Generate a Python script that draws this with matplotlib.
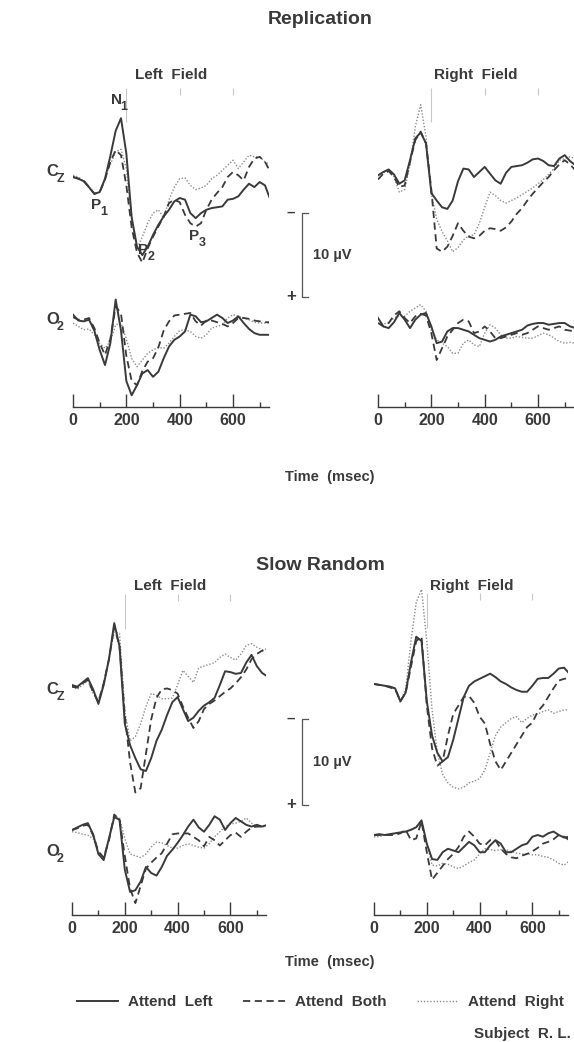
import numpy as np
import matplotlib
matplotlib.use("Agg")
import matplotlib.pyplot as plt
from matplotlib.lines import Line2D

plt.rcParams['font.family'] = ['Liberation Sans', 'DejaVu Sans']
plt.rcParams['font.weight'] = 'bold'

INK = '#3a3a3a'
DOT = '#8c8c8c'

# temps (msec), un point toutes les 20 ms
t_ms = np.arange(0, 741, 20)

# --- Replication (uV, negatif vers le haut) ---
rep_lf_cz_left = [0.0, 0.2, 0.5, 1.2, 2.0, 1.8, 0.2, -2.5, -5.5, -7.0,
                  -2.8, 4.8, 8.3, 9.3, 8.3, 6.9, 5.7, 4.7, 3.9, 2.9,
                  2.5, 2.7, 4.3, 4.9, 4.3, 3.9, 3.7, 3.6, 3.5, 2.7,
                  2.6, 2.3, 1.5, 0.8, 1.2, 0.6, 1.0, 2.7]
rep_lf_cz_both = [0.0, 0.2, 0.4, 1.2, 2.0, 1.8, 0.3, -1.8, -3.2, -2.6,
                  1.0, 6.0, 9.0, 10.2, 8.5, 7.1, 5.9, 4.7, 3.1, 2.7,
                  3.0, 4.5, 5.5, 5.9, 5.5, 3.9, 2.7, 1.9, 1.2, 0.0,
                  -0.6, -0.2, 0.4, -1.2, -2.2, -2.4, -1.8, -0.6]
rep_lf_cz_right = [-0.2, 0.0, 0.5, 1.3, 2.0, 1.8, 0.2, -1.5, -3.0, -3.3,
                   -1.0, 5.0, 8.5, 7.1, 5.5, 4.3, 3.9, 4.9, 2.7, 1.2,
                   0.2, 0.1, 1.0, 1.5, 1.3, 1.0, 0.2, -0.2, -0.8, -1.4,
                   -2.0, -1.0, -1.8, -2.6, -2.4, -2.4, -1.8, -1.4]
rep_lf_o2_left = [-0.4, 0.3, 0.4, 0.2, 1.5, 3.8, 5.6, 3.0, -2.2, 1.5,
                  7.5, 9.2, 8.0, 6.6, 6.2, 7.0, 6.4, 4.8, 3.4, 2.6,
                  2.2, 1.6, -0.4, -0.2, 0.5, 0.4, 0.0, -0.4, 0.0, 0.6,
                  0.3, -0.2, 0.6, 1.3, 1.8, 2.0, 2.0, 2.0]
rep_lf_o2_both = [-0.1, 0.2, 0.2, 0.0, 1.2, 3.0, 4.4, 2.5, -1.4, -0.5,
                  4.5, 7.5, 8.0, 6.3, 5.2, 4.8, 3.5, 1.5, 0.4, -0.3,
                  -0.4, -0.5, -0.6, 0.4, 0.9, 0.3, 0.3, 0.5, 0.7, 1.0,
                  0.6, 0.0, 0.0, 0.1, 0.3, 0.4, 0.5, 0.5]
rep_lf_o2_right = [0.6, 1.0, 1.4, 1.3, 2.0, 3.0, 3.6, 2.8, 0.8, 0.6,
                   2.5, 4.8, 5.8, 5.0, 4.2, 3.8, 3.5, 3.6, 3.0, 2.2,
                   1.5, 1.4, 1.6, 2.2, 2.4, 2.0, 1.2, 1.0, 0.8, 0.0,
                   -0.4, -0.2, 0.0, 0.2, 0.5, 0.6, 0.6, 0.6]

rep_rf_cz_left = [-0.2, -0.6, -0.9, -0.3, 0.8, 0.4, -2.0, -4.6, -5.3, -4.0,
                  1.9, 2.8, 3.6, 3.8, 2.8, 0.5, -1.0, -0.9, 0.0, -0.6,
                  -1.2, -0.4, 0.4, 0.8, -0.5, -1.2, -1.3, -1.4, -1.7, -2.1,
                  -2.2, -1.9, -1.4, -1.3, -2.2, -2.6, -1.9, -1.4]
rep_rf_cz_both = [0.3, -0.4, -0.7, 0.0, 1.2, 1.0, -1.8, -4.4, -5.4, -4.0,
                  1.5, 8.5, 8.9, 8.3, 7.0, 5.5, 6.4, 7.1, 7.3, 7.0,
                  6.4, 6.1, 6.2, 6.4, 6.0, 5.3, 4.4, 3.7, 2.8, 2.0,
                  1.3, 0.6, 0.0, -0.8, -1.5, -2.0, -1.5, -0.8]
rep_rf_cz_right = [-0.2, -0.5, -0.8, 0.0, 1.8, 1.5, -1.5, -6.0, -8.6, -4.8,
                   2.0, 5.0, 6.5, 7.6, 8.9, 8.4, 7.5, 7.0, 6.9, 5.5,
                   3.6, 1.8, 2.2, 2.8, 3.1, 2.8, 2.5, 2.1, 1.7, 1.3,
                   0.8, 0.3, -0.3, -1.0, -2.0, -2.2, -2.4, -2.2]
rep_rf_o2_left = [0.0, 1.0, 1.2, 0.5, -0.6, 0.2, 1.2, 0.2, -0.4, -0.6,
                  1.0, 3.0, 2.8, 1.6, 1.2, 1.2, 1.4, 1.6, 2.0, 2.4,
                  2.6, 2.8, 2.6, 2.2, 2.0, 1.8, 1.6, 1.4, 0.9, 0.7,
                  0.6, 0.6, 0.8, 0.7, 0.6, 0.6, 1.0, 1.2]
rep_rf_o2_both = [0.6, 1.0, 0.6, -0.3, -0.8, 0.0, 0.6, -0.2, -0.5, -0.3,
                  1.8, 5.0, 3.6, 2.2, 1.4, 0.6, 0.2, 0.4, 1.8, 1.6,
                  1.0, 1.6, 2.4, 2.4, 2.2, 2.0, 1.8, 2.0, 1.8, 1.4,
                  1.0, 1.2, 1.4, 1.2, 1.0, 1.4, 1.5, 1.6]
rep_rf_o2_right = [0.6, 0.7, 0.6, 0.0, -0.3, -0.2, -0.8, -1.2, -1.6, -0.8,
                   1.5, 2.6, 3.0, 3.4, 4.2, 4.2, 3.0, 2.6, 3.2, 3.4,
                   1.8, 0.8, 1.2, 2.0, 2.4, 2.4, 2.2, 2.3, 2.4, 2.4,
                   2.1, 1.8, 2.0, 2.4, 2.8, 3.0, 2.9, 3.0]

# --- Slow Random ---
slow_lf_cz_left = [0.0, 0.2, -0.3, -0.8, 0.5, 2.2, 0.0, -3.0, -7.2, -4.5,
                   4.5, 7.0, 8.5, 9.8, 10.0, 8.5, 6.5, 5.2, 3.5, 2.0,
                   1.4, 2.8, 4.2, 3.8, 3.0, 2.4, 2.0, 1.5, 0.0, -1.6,
                   -1.5, -1.3, -1.4, -2.6, -3.5, -2.2, -1.4, -1.0]
slow_lf_cz_both = [0.2, 0.3, -0.2, -0.6, 0.8, 2.0, -0.2, -3.0, -6.8, -4.5,
                   3.5, 9.0, 12.5, 12.0, 8.0, 4.0, 1.5, 0.5, 0.4, 0.6,
                   1.0, 2.5, 3.8, 5.0, 4.2, 2.8, 2.2, 1.8, 1.3, 0.8,
                   0.4, -0.2, -0.9, -1.8, -3.0, -3.6, -4.0, -3.8]
slow_lf_cz_right = [0.2, 0.5, 0.0, -0.5, 1.0, 1.8, -0.3, -3.0, -6.2, -6.0,
                    3.0, 6.5, 6.0, 4.5, 2.5, 1.0, 1.2, 1.6, 1.6, 1.5,
                    0.0, -1.7, -1.0, -0.3, -2.0, -2.2, -2.4, -2.6, -3.2, -3.6,
                    -3.2, -2.9, -3.6, -4.6, -4.8, -4.4, -4.1, -4.2]
slow_lf_o2_left = [0.0, -0.3, -0.6, -0.8, 0.5, 2.8, 3.5, 1.0, -1.5, -1.2,
                   4.6, 7.2, 7.0, 6.0, 4.3, 5.0, 5.3, 4.3, 3.0, 2.3,
                   1.5, 0.6, -0.4, -1.2, -0.3, 0.2, -0.6, -1.6, -1.2, 0.0,
                   -0.8, -1.4, -1.0, -0.6, -0.4, -0.6, -0.4, -0.6]
slow_lf_o2_both = [0.0, -0.2, -0.5, -0.6, 0.6, 2.5, 3.2, 1.2, -1.8, -1.2,
                   3.0, 6.8, 8.5, 6.5, 4.5, 3.8, 3.2, 2.7, 1.6, 0.5,
                   0.4, 0.4, 0.4, 0.8, 1.2, 1.9, 0.8, 1.2, 1.8, 1.2,
                   0.6, 0.3, 0.8, 0.2, -0.3, -0.4, -0.4, -0.4]
slow_lf_o2_right = [0.2, 0.3, 0.5, 0.6, 1.0, 2.6, 3.2, 1.0, -1.6, -1.4,
                    1.0, 2.8, 3.0, 3.2, 2.8, 2.0, 1.4, 1.5, 1.8, 2.1,
                    2.1, 1.8, 1.6, 1.8, 2.0, 2.1, 1.6, 0.8, 0.2, -0.4,
                    -0.7, -0.8, -1.0, -1.4, -0.8, -0.4, -0.4, -0.4]

slow_rf_cz_left = [0.0, 0.1, 0.2, 0.3, 0.5, 2.0, 1.0, -2.5, -5.5, -5.0,
                   2.0, 6.0, 8.0, 9.0, 8.5, 6.5, 4.0, 1.5, 0.2, -0.3,
                   -0.6, -0.9, -1.2, -0.8, -0.3, 0.0, 0.4, 0.7, 0.9, 0.9,
                   0.2, -0.6, -0.7, -0.7, -1.2, -1.8, -1.9, -1.2]
slow_rf_cz_both = [0.0, 0.1, 0.2, 0.4, 0.6, 2.0, 1.0, -2.0, -5.0, -5.5,
                   2.5, 7.5, 9.5, 9.0, 6.0, 3.5, 2.5, 1.5, 1.4, 2.2,
                   3.8, 4.6, 7.0, 9.0, 10.0, 9.0, 8.0, 7.0, 6.0, 5.0,
                   4.5, 3.2, 2.5, 1.5, 0.5, -0.4, -0.6, -0.7]
slow_rf_cz_right = [0.0, 0.1, 0.2, 0.3, 0.6, 2.2, 0.5, -5.0, -9.5, -11.0,
                    -5.0, 3.0, 8.0, 10.5, 11.5, 12.0, 12.2, 12.0, 11.5, 11.3,
                    11.0, 10.0, 8.0, 6.0, 5.0, 4.5, 4.0, 3.8, 4.5, 4.0,
                    3.6, 3.5, 3.2, 3.0, 3.4, 3.2, 3.0, 3.0]
slow_rf_o2_left = [0.0, -0.1, 0.0, -0.1, -0.2, -0.3, -0.4, -0.6, -0.9, -1.7,
                   1.0, 2.8, 2.9, 2.0, 1.6, 1.8, 2.0, 1.4, 0.8, 1.2,
                   2.0, 2.0, 1.2, 0.6, 1.0, 2.0, 2.0, 1.6, 1.2, 1.0,
                   0.2, 0.0, 0.2, -0.2, -0.4, 0.0, 0.3, 0.2]
slow_rf_o2_both = [0.0, 0.0, 0.0, 0.0, 0.0, -0.2, -0.6, 0.6, 0.4, -1.6,
                   2.0, 5.2, 4.4, 3.6, 2.8, 2.2, 1.4, 0.2, -0.4, 0.2,
                   1.0, 1.2, 0.6, 0.6, 1.6, 2.2, 2.6, 2.7, 2.4, 2.2,
                   1.9, 1.5, 1.0, 0.8, 0.5, 0.0, 0.2, 0.6]
slow_rf_o2_right = [0.2, 0.2, 0.0, 0.0, -0.2, -0.3, -0.4, -0.6, -1.0, -1.5,
                    1.0, 3.5, 3.6, 3.3, 3.4, 3.7, 3.9, 3.6, 3.2, 2.9,
                    2.2, 1.6, 1.7, 1.8, 1.7, 1.7, 1.9, 2.1, 2.2, 2.2,
                    2.3, 2.3, 2.5, 2.6, 2.9, 3.3, 3.5, 3.0]

x_ticks = [0, 200, 400, 600]
x_minor = [100, 300, 500, 700]
stim_marks = [200, 400, 600]
scale_uv = 10
conditions = ['Attend  Left', 'Attend  Both', 'Attend  Right']

replication = {
    'Left  Field': {'cz': (rep_lf_cz_left, rep_lf_cz_both, rep_lf_cz_right),
                    'o2': (rep_lf_o2_left, rep_lf_o2_both, rep_lf_o2_right)},
    'Right  Field': {'cz': (rep_rf_cz_left, rep_rf_cz_both, rep_rf_cz_right),
                     'o2': (rep_rf_o2_left, rep_rf_o2_both, rep_rf_o2_right)},
}
slow_random = {
    'Left  Field': {'cz': (slow_lf_cz_left, slow_lf_cz_both, slow_lf_cz_right),
                    'o2': (slow_lf_o2_left, slow_lf_o2_both, slow_lf_o2_right)},
    'Right  Field': {'cz': (slow_rf_cz_left, slow_rf_cz_both, slow_rf_cz_right),
                     'o2': (slow_rf_o2_left, slow_rf_o2_both, slow_rf_o2_right)},
}

W, H = 574, 1042
XMAX = 735
fig = plt.figure(figsize=(W / 100, H / 100), dpi=100)


def px_axes(x0, x1, ytop, ybot):
    ax = fig.add_axes([x0 / W, 1 - ybot / H, (x1 - x0) / W, (ybot - ytop) / H])
    ax.set_facecolor('none')
    return ax


def ftext(x, y, s, **kw):
    kw.setdefault('color', INK)
    kw.setdefault('ha', 'center')
    kw.setdefault('va', 'center')
    fig.text(x / W, 1 - y / H, s, **kw)


def draw_traces(ax, traces):
    left, both, right = traces
    ax.plot(t_ms, right, color=DOT, lw=1.0, ls=(0, (1, 1.3)))
    ax.plot(t_ms, both, color=INK, lw=1.3, ls=(0, (4, 2.5)))
    ax.plot(t_ms, left, color=INK, lw=1.4, ls='-')


sections = [
    dict(name='Replication', data=replication, title_y=20, field_y=75,
         s=8.4, ms=0.2667, x0=(73, 378), cz_y=(177, 177), o2_y=(318, 318),
         axis_y=407, time_y=477, bar_top=213, cz_lab=172, o2_lab=320),
    dict(name='Slow Random', data=slow_random, title_y=565, field_y=586,
         s=8.6, ms=0.264, x0=(72, 374), cz_y=(685, 684), o2_y=(830, 835),
         axis_y=915, time_y=962, bar_top=719, cz_lab=690, o2_lab=852),
]

for sec in sections:
    s = sec['s']
    ftext(320, sec['title_y'], sec['name'], fontsize=14)
    ftext(330, sec['time_y'], 'Time  (msec)', fontsize=10.5)
    # electrode labels
    ftext(46, sec['cz_lab'], 'C', fontsize=12, ha='left')
    ftext(57, sec['cz_lab'] + 7, 'Z', fontsize=9, ha='left')
    ftext(46, sec['o2_lab'], 'O', fontsize=12, ha='left')
    ftext(57, sec['o2_lab'] + 7, '2', fontsize=9, ha='left')

    for col, field in enumerate(['Left  Field', 'Right  Field']):
        x0 = sec['x0'][col]
        x1 = x0 + XMAX * sec['ms']
        ftext(x0 + 98, sec['field_y'], field, fontsize=11)

        cz_base = sec['cz_y'][col]
        ax_cz = px_axes(x0, x1, cz_base - 12 * s, cz_base + 14 * s)
        ax_cz.set_xlim(0, XMAX)
        ax_cz.set_ylim(14, -12)
        ax_cz.axis('off')
        ax_cz.vlines(stim_marks, -10.6, [-6.5, -9.8, -9.8], color='#c8c8c8', lw=0.8)
        draw_traces(ax_cz, sec['data'][field]['cz'])

        o2_base = sec['o2_y'][col]
        ax_o2 = px_axes(x0, x1, o2_base - 6 * s, sec['axis_y'])
        ax_o2.set_xlim(0, XMAX)
        ax_o2.set_ylim((sec['axis_y'] - o2_base) / s, -6)
        draw_traces(ax_o2, sec['data'][field]['o2'])
        for side in ['top', 'left', 'right']:
            ax_o2.spines[side].set_visible(False)
        ax_o2.spines['bottom'].set_color(INK)
        ax_o2.spines['bottom'].set_linewidth(1.0)
        ax_o2.set_yticks([])
        ax_o2.set_xticks(x_ticks)
        ax_o2.set_xticks(x_minor, minor=True)
        ax_o2.set_xticklabels([str(v) for v in x_ticks])
        ax_o2.tick_params(axis='x', which='major', direction='in', length=9.5,
                          width=1.0, color=INK, pad=4, labelsize=11.5, labelcolor=INK)
        ax_o2.tick_params(axis='x', which='minor', direction='in', length=3.5,
                          width=1.0, color=INK)

        if col == 0:
            # barre d'echelle 10 uV (negatif en haut)
            bar_x = (302 - x0) / sec['ms']
            serif = 6 / sec['ms']
            v0 = (sec['bar_top'] - cz_base) / s
            v1 = v0 + scale_uv
            ax_cz.plot([bar_x + serif, bar_x, bar_x, bar_x + serif], [v0, v0, v1, v1],
                       color='#555555', lw=0.9, clip_on=False)
            ax_cz.text(bar_x - 11 / sec['ms'], v0, '\u2013', color=INK, fontsize=11,
                       ha='center', va='center', clip_on=False)
            ax_cz.text(bar_x - 11 / sec['ms'], v1, '+', color=INK, fontsize=12,
                       ha='center', va='center', clip_on=False)
            ax_cz.text(bar_x + 11 / sec['ms'], (v0 + v1) / 2, '%d \u00b5V' % scale_uv,
                       color=INK, fontsize=10.5, ha='left', va='center', clip_on=False)

# etiquettes des composantes (Replication, Cz gauche)
for name, sub, x, y in [('N', '1', 116, 100), ('P', '1', 96, 205),
                        ('P', '2', 143, 250), ('P', '3', 194, 236)]:
    ftext(x, y, name, fontsize=11)
    ftext(x + 8, y + 7, sub, fontsize=9)

handles = [Line2D([], [], color=INK, lw=1.4),
           Line2D([], [], color=INK, lw=1.3, ls=(0, (4, 2.5))),
           Line2D([], [], color=DOT, lw=1.0, ls=(0, (1, 1.3)))]
fig.legend(handles, conditions, loc='center left', bbox_to_anchor=(77 / W, 1 - 1002 / H),
           ncol=3, frameon=False, fontsize=11, handlelength=2.7, handletextpad=0.65,
           columnspacing=2.0, borderpad=0, borderaxespad=0, labelcolor=INK)
ftext(571, 1034, 'Subject  R. L.', fontsize=11, ha='right')

fig.savefig('out.png', dpi=100)
